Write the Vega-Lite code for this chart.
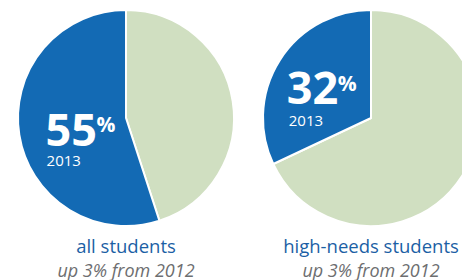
{
  "$schema": "https://vega.github.io/schema/vega-lite/v6.json",
  "padding": {"left": 17, "top": 9, "right": 0, "bottom": 0},
  "background": "white",
  "config": {
    "view": {"stroke": null},
    "font": "Open Sans",
    "title": {
      "color": "#1c5fa5",
      "fontSize": 18.5,
      "fontWeight": "normal",
      "subtitleColor": "#6d6e70",
      "subtitleFontSize": 18,
      "subtitleFontStyle": "italic",
      "offset": 11,
      "subtitlePadding": 6,
      "anchor": "middle"
    }
  },
  "data": {
    "values": [
      {"group": "all students", "part": "other", "value": 45, "ord": 1, "big": "", "pct": "", "year": ""},
      {"group": "all students", "part": "share", "value": 55, "ord": 2, "big": "55", "pct": "%", "year": "2013"},
      {"group": "high-needs students", "part": "other", "value": 68, "ord": 1, "big": "", "pct": "", "year": ""},
      {"group": "high-needs students", "part": "share", "value": 32, "ord": 2, "big": "32", "pct": "%", "year": "2013"}
    ]
  },
  "spacing": 29,
  "bounds": "flush",
  "hconcat": [
    {
      "width": 216,
      "height": 216,
      "transform": [{"filter": "datum.group === 'all students'"}],
      "title": {"text": "all students", "subtitle": "up 3% from 2012", "orient": "bottom"},
      "encoding": {
        "theta": {"field": "value", "type": "quantitative", "stack": true},
        "order": {"field": "ord", "type": "quantitative"},
        "detail": {"field": "part"}
      },
      "layer": [
        {
          "mark": {"type": "arc", "stroke": "white", "strokeWidth": 2, "strokeJoin": "round"},
          "encoding": {
            "color": {"field": "part", "type": "nominal", "legend": null,
              "scale": {"domain": ["other", "share"], "range": ["#d0dfc1", "#136ab4"]}}
          }
        },
        {
          "mark": {"type": "text", "radius": 50, "align": "left", "baseline": "alphabetic", "dx": -31, "dy": 20, "fontSize": 45, "fontWeight": "bold", "color": "white"},
          "encoding": {"text": {"field": "big"}}
        },
        {
          "mark": {"type": "text", "radius": 50, "align": "left", "baseline": "alphabetic", "dx": 20, "dy": 6, "fontSize": 21, "fontWeight": "bold", "color": "white"},
          "encoding": {"text": {"field": "pct"}}
        },
        {
          "mark": {"type": "text", "radius": 50, "align": "left", "baseline": "alphabetic", "dx": -30, "dy": 40, "fontSize": 15, "color": "white"},
          "encoding": {"text": {"field": "year"}}
        }
      ]
    },
    {
      "width": 216,
      "height": 216,
      "transform": [{"filter": "datum.group === 'high-needs students'"}],
      "title": {"text": "high-needs students", "subtitle": "up 3% from 2012", "orient": "bottom"},
      "encoding": {
        "theta": {"field": "value", "type": "quantitative", "stack": true},
        "order": {"field": "ord", "type": "quantitative"},
        "detail": {"field": "part"}
      },
      "layer": [
        {
          "mark": {"type": "arc", "stroke": "white", "strokeWidth": 2, "strokeJoin": "round"},
          "encoding": {
            "color": {"field": "part", "type": "nominal", "legend": null,
              "scale": {"domain": ["other", "share"], "range": ["#d0dfc1", "#136ab4"]}}
          }
        },
        {
          "mark": {"type": "text", "radius": 50, "align": "left", "baseline": "alphabetic", "dx": -42, "dy": 13, "fontSize": 45, "fontWeight": "bold", "color": "white"},
          "encoding": {"text": {"field": "big"}}
        },
        {
          "mark": {"type": "text", "radius": 50, "align": "left", "baseline": "alphabetic", "dx": 9, "dy": 0, "fontSize": 21, "fontWeight": "bold", "color": "white"},
          "encoding": {"text": {"field": "pct"}}
        },
        {
          "mark": {"type": "text", "radius": 50, "align": "left", "baseline": "alphabetic", "dx": -40, "dy": 35, "fontSize": 15, "color": "white"},
          "encoding": {"text": {"field": "year"}}
        }
      ]
    }
  ]
}
